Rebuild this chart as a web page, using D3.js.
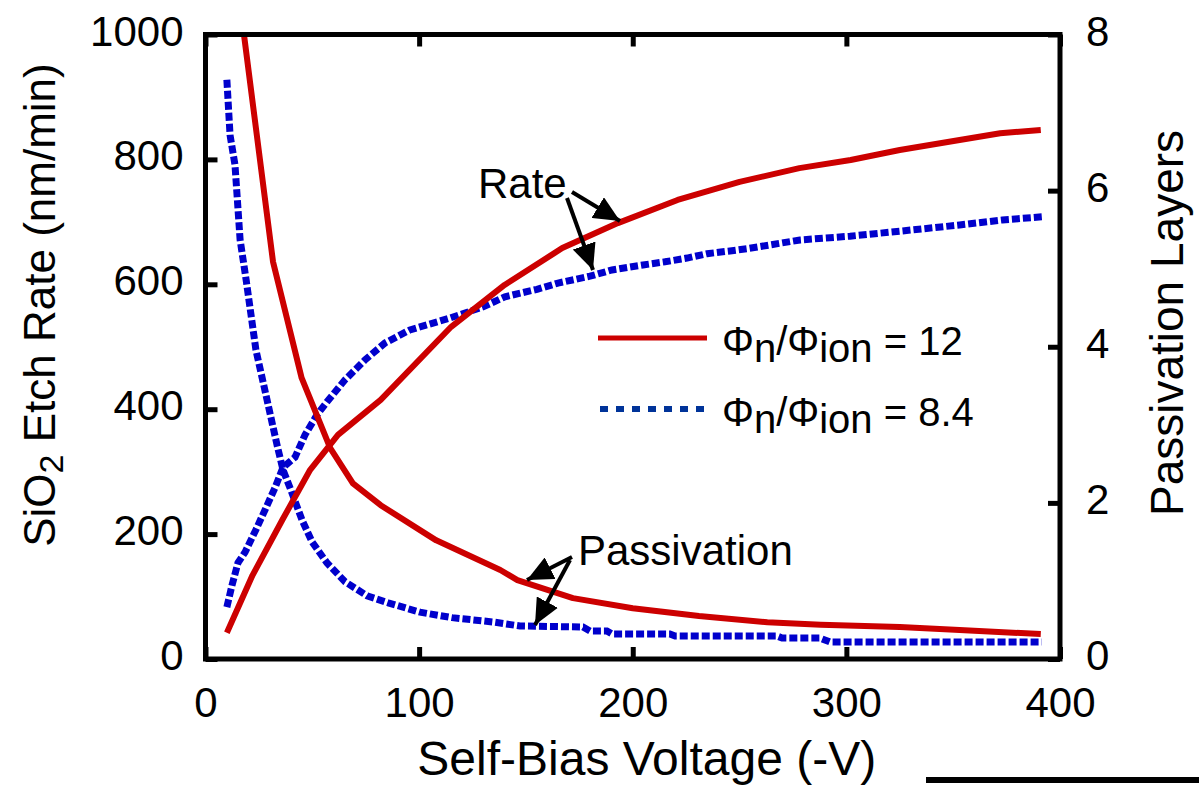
<!DOCTYPE html>
<html><head><meta charset="utf-8">
<script src="https://cdn.jsdelivr.net/npm/d3@7"></script>
<style>
html,body{margin:0;padding:0;background:#fff;}
svg{display:block;font-family:"Liberation Sans",Arial,sans-serif;}
</style></head>
<body>
<svg id="chart" width="1199" height="786"></svg>
<script>
// ---- data ----
const xTicks = [0, 100, 200, 300, 400];
const yLeftTicks = [0, 200, 400, 600, 800, 1000];
const yRightTicks = [0, 2, 4, 6, 8];

// Etch rate, Phi_n/Phi_ion = 12 (left axis, nm/min)
const rateX12 = [10, 22, 36, 49, 62, 82, 115, 140, 167, 193, 221, 250, 278, 302, 325, 353, 372, 391];
const rate12  = [42, 134, 223, 303, 359, 415, 532, 599, 658, 698, 735, 764, 786, 799, 815, 831, 842, 847];
// Passivation layers, ratio 12 (right axis)
const passX12 = [18, 31.6, 45, 58.4, 69, 82, 108, 138, 146, 172, 200, 231, 263, 288, 325, 353, 391];
const pass12  = [8.0, 5.09, 3.60, 2.70, 2.25, 1.97, 1.52, 1.14, 1.01, 0.78, 0.65, 0.55, 0.47, 0.44, 0.41, 0.37, 0.32];
// Etch rate, ratio 8.4
const rateX84 = [10, 12.4, 15.2, 18.5, 23.6, 27.9, 32.5, 36.3, 41.9, 46.6, 52.2, 56.9, 65.3, 74.7, 84, 95.7, 114.5, 130, 140.2, 155.2, 165, 180, 190.3, 204.8, 215.1, 225.4, 234.8, 244.6, 253.5, 278.3, 301.7, 325, 353, 373, 391.5];
const rate84  = [83, 118, 154, 171, 207, 239, 274, 307, 323, 359, 391, 412, 447, 479, 506, 527, 546, 564, 580, 592, 602, 613, 623, 631, 636, 642, 649, 653, 657, 671, 677, 685, 695, 703, 708];
// Passivation layers, ratio 8.4
const passX84 = [10, 11.5, 13.8, 16.2, 19, 23.6, 28.8, 33.5, 36.3, 39.6, 45.2, 49.9, 56.9, 65.3, 75.6, 85.5, 100.4, 115.4, 134.6, 147.2, 176.7, 180.0, 187.9, 190.3, 217.4, 219.8, 267.5, 269.9, 287.6, 292.3, 391.5];
const pass84  = [7.42, 6.71, 6.33, 5.37, 4.86, 3.96, 3.32, 2.74, 2.42, 2.19, 1.78, 1.50, 1.23, 0.99, 0.81, 0.72, 0.60, 0.53, 0.474, 0.423, 0.410, 0.359, 0.359, 0.320, 0.320, 0.295, 0.295, 0.269, 0.269, 0.218, 0.218];

const legendLabels = ["12", "8.4"];

// ---- layout ----
const L = 205.5, R = 1060, T = 34.5, B = 659;
const svg = d3.select("#chart");
const x = d3.scaleLinear().domain([0, 400]).range([L, R]);
const yL = d3.scaleLinear().domain([0, 1000]).range([B, T]);
const yR = d3.scaleLinear().domain([0, 8]).range([B, T]);

const red = "#cc0000", blue = "#0000cc", legBlue = "#003399";

// curves (clip to plot)
svg.append("clipPath").attr("id","clip").append("rect")
  .attr("x", L).attr("y", T).attr("width", R-L).attr("height", B-T);
const g = svg.append("g").attr("clip-path","url(#clip)");

const lineL = d3.line().x(d => x(d[0])).y(d => yL(d[1]));
const lineR = d3.line().x(d => x(d[0])).y(d => yR(d[1]));

g.append("path").datum(passX84.map((v,i)=>[v, pass84[i]]))
  .attr("d", lineR).attr("fill","none").attr("stroke", blue)
  .attr("stroke-width", 7).attr("stroke-dasharray","8,3");
g.append("path").datum(rateX84.map((v,i)=>[v, rate84[i]]))
  .attr("d", lineL).attr("fill","none").attr("stroke", blue)
  .attr("stroke-width", 7).attr("stroke-dasharray","8,3");
g.append("path").datum(passX12.map((v,i)=>[v, pass12[i]]))
  .attr("d", lineR).attr("fill","none").attr("stroke", red)
  .attr("stroke-width", 6).attr("stroke-linejoin","round");
g.append("path").datum(rateX12.map((v,i)=>[v, rate12[i]]))
  .attr("d", lineL).attr("fill","none").attr("stroke", red)
  .attr("stroke-width", 6).attr("stroke-linejoin","round");

// axes
const fmt = d3.format("d");
function style(sel){
  sel.select(".domain").remove();
  sel.selectAll(".tick line").attr("stroke","#000").attr("stroke-width",5);
  sel.selectAll(".tick text").attr("fill","#000").attr("font-size",42)
     .attr("font-family","Liberation Sans, Arial, sans-serif");
}
svg.append("g").attr("transform",`translate(0,${B})`)
  .call(d3.axisBottom(x).tickValues(xTicks).tickFormat(fmt).tickSize(-12).tickPadding(28))
  .call(style);
svg.append("g").attr("transform",`translate(0,${T})`)
  .call(d3.axisTop(x).tickValues(xTicks).tickSize(-12).tickFormat(""))
  .call(style);
svg.append("g").attr("transform",`translate(${L},0)`)
  .call(d3.axisLeft(yL).tickValues(yLeftTicks).tickFormat(fmt).tickSize(-12).tickPadding(22))
  .call(style).selectAll(".tick text").attr("dy","0.25em");
svg.append("g").attr("transform",`translate(${R},0)`)
  .call(d3.axisRight(yR).tickValues(yRightTicks).tickFormat(fmt).tickSize(-12).tickPadding(26))
  .call(style).selectAll(".tick text").attr("dy","0.25em");

// frame
svg.append("rect").attr("x",L).attr("y",T).attr("width",R-L).attr("height",B-T)
  .attr("fill","none").attr("stroke","#000").attr("stroke-width",5);

// axis titles
svg.append("text").attr("x", (L+R)/2 + 14).attr("y", 775)
  .attr("text-anchor","middle").attr("font-size",48).attr("fill","#000")
  .text("Self-Bias Voltage (-V)");

const lt = svg.append("text").attr("transform","translate(55,305) rotate(-90)")
  .attr("text-anchor","middle").attr("font-size",44).attr("fill","#000");
lt.append("tspan").text("SiO");
lt.append("tspan").attr("dy",8).attr("font-size",34).text("2");
lt.append("tspan").attr("dy",-8).text(" Etch Rate (nm/min)");

svg.append("text").attr("transform","translate(1183,323) rotate(-90)")
  .attr("text-anchor","middle").attr("font-size",46).attr("fill","#000")
  .text("Passivation Layers");

// legend
const legY = [338, 409];
svg.append("line").attr("x1",598).attr("x2",707).attr("y1",legY[0]).attr("y2",legY[0])
  .attr("stroke",red).attr("stroke-width",5);
svg.append("line").attr("x1",600).attr("x2",707).attr("y1",legY[1]).attr("y2",legY[1])
  .attr("stroke",legBlue).attr("stroke-width",6).attr("stroke-dasharray","8,8");
legendLabels.forEach((lab,i) => {
  const t = svg.append("text").attr("x",722).attr("y",legY[i]+17)
    .attr("font-size",40).attr("fill","#000");
  t.append("tspan").text("\u03A6");
  t.append("tspan").attr("dy",7).text("n");
  t.append("tspan").attr("dy",-7).text("/\u03A6");
  t.append("tspan").attr("dy",7).text("ion");
  t.append("tspan").attr("dy",-7).text(" = " + lab);
});

// annotations
const defs = svg.append("defs");
defs.append("marker").attr("id","ah").attr("markerUnits","userSpaceOnUse")
  .attr("viewBox","0 0 26 24").attr("refX",26).attr("refY",12)
  .attr("markerWidth",26).attr("markerHeight",24).attr("orient","auto")
  .append("path").attr("d","M0,0 L26,12 L0,24 Z").attr("fill","#000");

function arrow(x1,y1,x2,y2){
  svg.append("line").attr("x1",x1).attr("y1",y1).attr("x2",x2).attr("y2",y2)
    .attr("stroke","#000").attr("stroke-width",4).attr("marker-end","url(#ah)");
}
svg.append("text").attr("x",478).attr("y",198).attr("font-size",42).attr("fill","#000").text("Rate");
arrow(572,192,620,221);
arrow(567,198,593,270);
svg.append("text").attr("x",578).attr("y",565).attr("font-size",42).attr("fill","#000").text("Passivation");
arrow(572,557,527,580);
arrow(570,560,535,625);

// stray rule at bottom right
svg.append("line").attr("x1",926).attr("x2",1199).attr("y1",780).attr("y2",780)
  .attr("stroke","#000").attr("stroke-width",6);
</script>
</body></html>
